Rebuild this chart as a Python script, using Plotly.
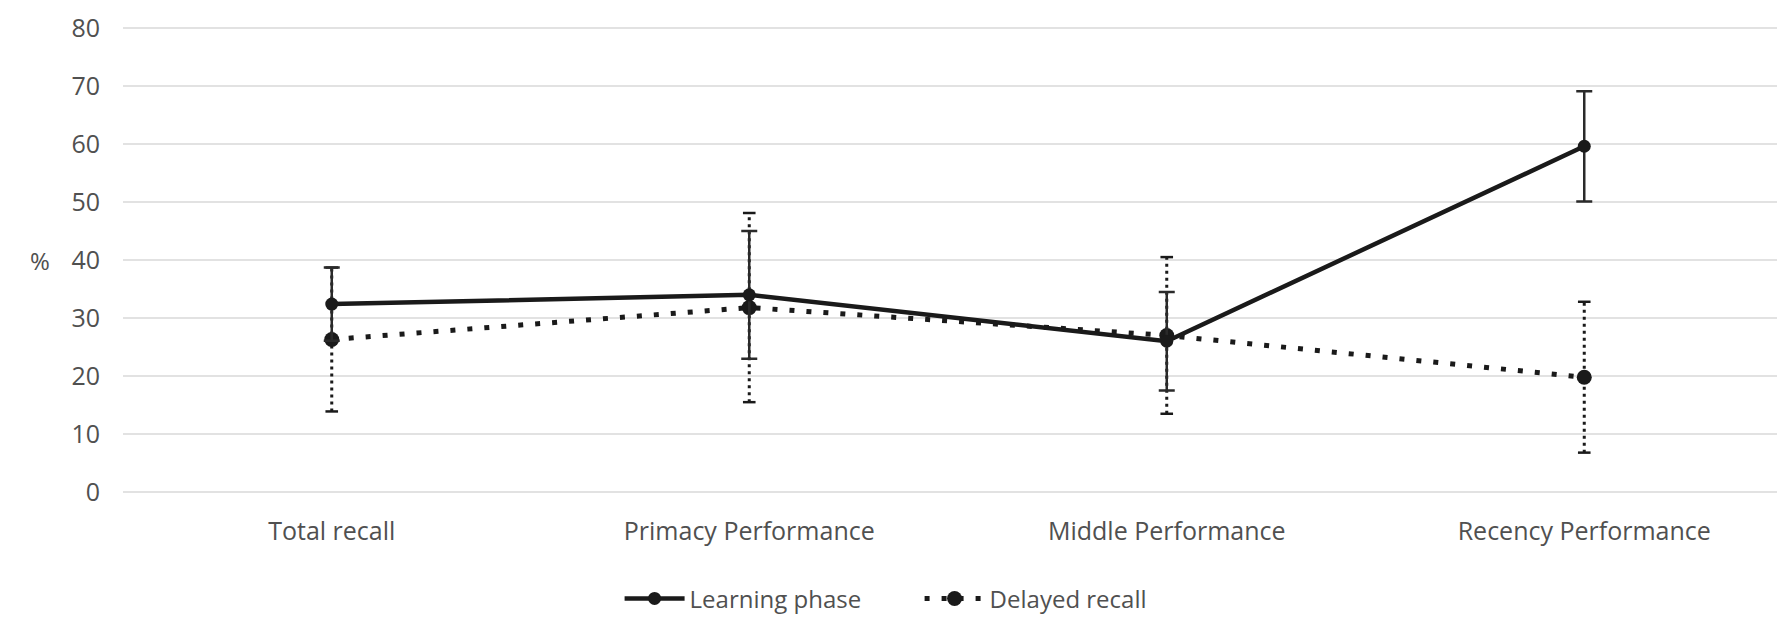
import plotly.graph_objects as go

categories = ["Total recall", "Primacy Performance", "Middle Performance", "Recency Performance"]
learning_mean = [32.4, 34.0, 26.0, 59.6]
learning_err = [6.3, 11.0, 8.5, 9.5]
delayed_mean = [26.3, 31.8, 27.0, 19.8]
delayed_err = [12.4, 16.3, 13.5, 13.0]
y_ticks = [0, 10, 20, 30, 40, 50, 60, 70, 80]

FONT = "Open Sans"
TXT = "#505050"

fig = go.Figure()

# dotted error bars for delayed recall, built from the means and errors
ex, ey = [], []
for c, m, e in zip(categories, delayed_mean, delayed_err):
    ex += [c, c, None]
    ey += [m - e, m + e, None]
fig.add_trace(go.Scatter(
    x=ex, y=ey, mode="lines+markers", showlegend=False, hoverinfo="skip",
    line=dict(color="#1a1a1a", width=3, dash="3px,4px"),
    marker=dict(symbol="line-ew", size=9, line=dict(color="#1a1a1a", width=2.5)),
))

fig.add_trace(go.Scatter(
    x=categories, y=delayed_mean, mode="lines+markers", name="Delayed recall",
    line=dict(color="#1a1a1a", width=5, dash="5px,12px"),
    marker=dict(symbol="circle", size=15, color="#1a1a1a"),
))

fig.add_trace(go.Scatter(
    x=categories, y=learning_mean, mode="lines+markers", name="Learning phase",
    line=dict(color="#1a1a1a", width=4.5),
    marker=dict(symbol="circle", size=13, color="#1a1a1a"),
    error_y=dict(type="data", array=learning_err, visible=True,
                 color="#2a2a2a", thickness=2.5, width=8),
))

fig.add_annotation(x=-0.05, xref="paper", y=40, yref="y", text="%",
                   showarrow=False, font=dict(family=FONT, size=24, color=TXT),
                   xanchor="center", yanchor="middle")

fig.update_layout(
    width=1785, height=621,
    margin=dict(l=115, r=0, t=17, b=134),
    paper_bgcolor="white", plot_bgcolor="white",
    font=dict(family=FONT, size=25, color=TXT),
    showlegend=True,
    legend=dict(orientation="h", x=0.477, xanchor="center", y=-0.221, yanchor="middle",
                traceorder="reversed", font=dict(family=FONT, size=24, color=TXT),
                entrywidth=225, entrywidthmode="pixels", itemwidth=60),
    xaxis=dict(type="category", categoryorder="array", categoryarray=categories,
               range=[-0.5, 3.5], showgrid=False, zeroline=False, showline=False,
               ticks="", ticklabelstandoff=19, tickfont=dict(family=FONT, size=25, color=TXT)),
    yaxis=dict(range=[-0.5, 80.5], tickvals=y_ticks, ticktext=[str(v) for v in y_ticks],
               showgrid=True, gridcolor="#e2e2e2", gridwidth=2, zeroline=False,
               showline=False, ticks="", ticklabelstandoff=22,
               tickfont=dict(family=FONT, size=25, color=TXT)),
)

fig.write_html("out.html")
